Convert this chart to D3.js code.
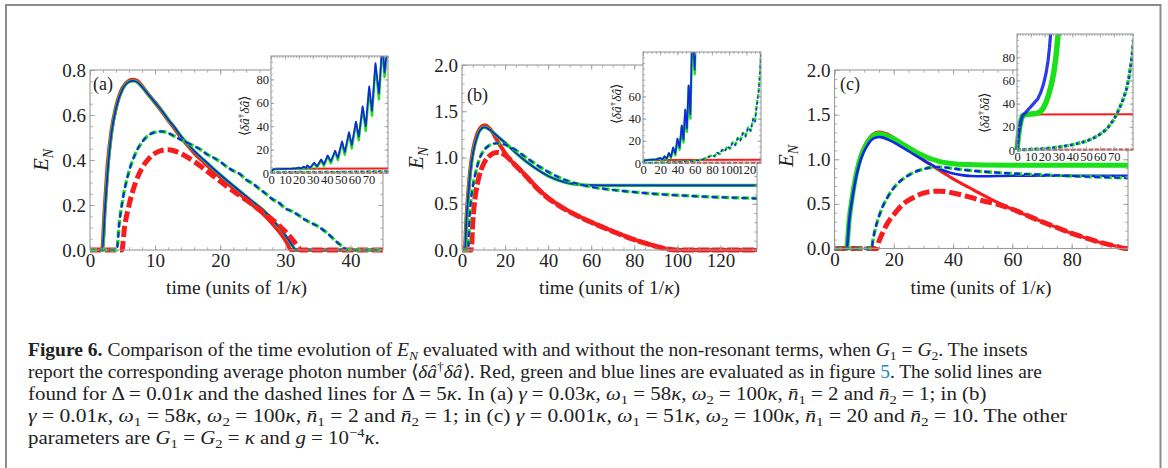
<!DOCTYPE html>
<html>
<head>
<meta charset="utf-8">
<script src="https://cdn.jsdelivr.net/npm/d3@7"></script>
<style>
  body { margin: 0; background: #fff; }
  svg text { font-family: "Liberation Serif", "Times New Roman", serif; fill: #222; }
</style>
</head>
<body>
<div id="chart"></div>
<script>
/**
 * DATA  (time in units of 1/kappa, E_N or photon number)
 * */
// panel (a)
const aRedSolid = [[0,0],[1.85,0],[2.25,0.18],[2.75,0.39],[3.3,0.53],[4,0.635],[5,0.72],[6,0.752],[6.6,0.757],[7.3,0.75],[8,0.728],[9,0.69],[10,0.655],[11,0.618],[12,0.578],[13,0.54],[14,0.5],[15,0.466],[16,0.432],[17.5,0.39],[19,0.35],[21,0.3],[23,0.25],[25,0.2],[26.5,0.163],[28,0.118],[29.5,0.065],[30.3,0.03],[30.8,0],[45,0]];
const aSolid = [[0,0],[1.9,0],[2.3,0.18],[2.8,0.38],[3.3,0.52],[4,0.63],[5,0.715],[6,0.748],[6.6,0.752],[7.3,0.745],[8,0.725],[9,0.69],[10,0.655],[11,0.62],[12,0.58],[13,0.545],[14,0.505],[15,0.472],[16,0.44],[17.5,0.4],[19,0.36],[21,0.31],[23,0.262],[25,0.215],[26.5,0.18],[28,0.135],[29.5,0.085],[30.5,0.045],[31.3,0.01],[31.6,0],[45,0]];
const aRedDash = [[0,0],[4.9,0],[5.3,0.1],[6,0.2],[7,0.3],[8,0.365],[9,0.405],[10,0.43],[11,0.443],[12,0.446],[13,0.44],[14,0.428],[15,0.412],[16,0.393],[17,0.372],[18,0.35],[19,0.328],[20,0.305],[22,0.262],[24,0.222],[26,0.18],[28,0.135],[30,0.082],[31,0.05],[32,0.012],[32.3,0],[45,0]];
const aDash = [[0,0],[4.1,0],[4.5,0.12],[5,0.22],[6,0.35],[7,0.43],[8,0.48],[9,0.51],[10,0.524],[11,0.527],[12,0.52],[13,0.505],[14,0.49],[15,0.476],[16,0.462],[17,0.446],[18,0.425],[19,0.41],[20,0.392],[21,0.37],[22,0.352],[23,0.338],[24,0.312],[25,0.295],[26,0.272],[27,0.25],[28,0.226],[29,0.21],[30,0.185],[31,0.172],[32,0.155],[33,0.135],[34,0.12],[35,0.105],[36,0.085],[37,0.06],[38,0.033],[39,0.01],[39.5,0],[45,0]];

// panel (b)
const bRedSolid = [[0,0],[1.3,0],[2,0.32],[3,0.65],[4,0.9],[5,1.06],[6,1.17],[7,1.25],[8,1.3],[9,1.33],[10,1.345],[11,1.345],[12,1.33],[14,1.28],[16,1.2],[18,1.12],[20,1.05],[22,0.985],[25,0.915],[28,0.845],[31,0.77],[35,0.67],[40,0.565],[45,0.485],[50,0.415],[55,0.357],[60,0.302],[65,0.252],[70,0.203],[75,0.157],[80,0.113],[85,0.076],[90,0.042],[95,0.014],[99,0],[137,0]];
const bSolid = [[0,0],[1.4,0],[2,0.3],[3,0.62],[4,0.87],[5,1.03],[6,1.14],[7,1.22],[8,1.28],[9,1.31],[10,1.325],[11,1.325],[12,1.312],[14,1.28],[16,1.24],[18,1.2],[20,1.16],[22,1.115],[25,1.05],[28,0.99],[31,0.935],[35,0.87],[40,0.8],[45,0.752],[50,0.72],[55,0.706],[60,0.7],[80,0.698],[100,0.698],[137,0.698]];
const bRedDash = [[0,0],[4.3,0],[5,0.3],[6,0.55],[7,0.7],[8,0.8],[10,0.93],[12,1.0],[14,1.04],[16,1.055],[18,1.05],[20,1.025],[22,0.985],[25,0.91],[28,0.84],[31,0.765],[35,0.665],[40,0.56],[45,0.48],[50,0.412],[55,0.354],[60,0.3],[65,0.25],[70,0.2],[75,0.155],[80,0.111],[85,0.074],[90,0.04],[95,0.013],[99.5,0],[137,0]];
const bDash = [[0,0],[2.8,0],[3.5,0.35],[4,0.5],[5,0.68],[6,0.8],[7,0.9],[8,0.98],[10,1.07],[12,1.12],[14,1.145],[16,1.155],[18,1.15],[20,1.14],[22,1.12],[25,1.08],[28,1.03],[31,0.98],[35,0.915],[40,0.845],[45,0.785],[50,0.74],[55,0.707],[60,0.683],[65,0.664],[70,0.65],[80,0.626],[90,0.606],[100,0.592],[110,0.58],[120,0.57],[130,0.563],[137,0.558]];

// panel (c)
const cRedSolid = [[0,0],[4,0],[5,0.35],[6,0.6],[7,0.8],[8,0.95],[9,1.06],[10,1.14],[11,1.2],[12,1.25],[13,1.28],[14,1.3],[15,1.305],[16,1.3],[18,1.28],[20,1.24],[22,1.19],[24,1.14],[26,1.09],[28,1.04],[30,0.99],[32,0.95],[34,0.905],[36,0.865],[40,0.78],[45,0.69],[50,0.6],[55,0.515],[60,0.44],[65,0.37],[70,0.3],[75,0.235],[80,0.17],[85,0.115],[90,0.065],[95,0.025],[98,0],[99,0]];
const cGreenSolid = [[0,0],[4,0],[5,0.34],[6,0.58],[7,0.78],[8,0.93],[9,1.04],[10,1.12],[11,1.18],[12,1.23],[13,1.26],[14,1.28],[15,1.285],[16,1.28],[18,1.26],[20,1.23],[22,1.19],[24,1.15],[26,1.11],[28,1.07],[30,1.04],[32,1.01],[34,0.99],[36,0.97],[40,0.95],[45,0.94],[50,0.935],[60,0.932],[80,0.932],[99,0.932]];
const cBlueSolid = [[0,0],[4.1,0],[5,0.33],[6,0.56],[7,0.75],[8,0.9],[9,1.01],[10,1.09],[11,1.15],[12,1.2],[13,1.23],[14,1.245],[15,1.25],[16,1.245],[18,1.22],[20,1.19],[22,1.15],[24,1.11],[26,1.07],[28,1.03],[30,0.99],[32,0.95],[34,0.915],[36,0.885],[38,0.86],[40,0.84],[43,0.822],[46,0.812],[50,0.81],[60,0.815],[80,0.815],[99,0.815]];
const cRedDash = [[0,0],[14.3,0],[15,0.08],[16,0.16],[18,0.29],[20,0.38],[22,0.46],[24,0.52],[26,0.56],[28,0.595],[30,0.62],[32,0.635],[34,0.642],[36,0.642],[38,0.636],[40,0.622],[43,0.6],[46,0.572],[50,0.535],[55,0.495],[60,0.44],[65,0.37],[70,0.3],[75,0.235],[80,0.17],[85,0.115],[90,0.065],[95,0.025],[98,0],[99,0]];
const cDash = [[0,0],[12.5,0],[13,0.1],[14,0.25],[15,0.36],[16,0.45],[18,0.58],[20,0.68],[22,0.75],[24,0.8],[26,0.84],[28,0.87],[30,0.89],[32,0.905],[34,0.912],[36,0.912],[38,0.906],[40,0.897],[45,0.877],[50,0.862],[55,0.85],[60,0.84],[70,0.826],[80,0.812],[90,0.8],[99,0.79]];

// insets: average photon number
const insABlue = [[0,0],[1,2.5],[2,3.2],[5,3.4],[10,3.5],[15,3.7],[18,4],[20,4.6],[21.5,3.8],[23.5,5.4],[25,4.2],[26,6.5],[28,4.5],[31,8.8],[33,5.8],[36,11.5],[38,7.5],[40.7,15],[43,10],[46,19],[48,13],[51,27],[53,18],[56,35],[58,24],[61,44],[63,31],[65.8,57],[68,40],[70.5,74],[72.5,53],[75,94],[77.5,68],[80,112],[81.5,86],[84,112]];
const insAGreen = [[0,0],[1,2.5],[2,3.2],[5,3.4],[10,3.5],[15,3.7],[18,4],[20,4.4],[21.5,3.2],[23.5,5.2],[25,3.5],[26,6.3],[28,3.6],[31,8.5],[33,4.6],[36,11],[38,6],[40.7,14.5],[43,8.3],[46,18.5],[48,11],[51,26],[53,15.5],[56,34],[58,21],[61,43],[63,28],[65.8,56],[68,36],[70.5,72],[72.5,49],[75,92],[77.5,63],[80,110],[81.5,82],[84,110]];
const insARed = [[0,0],[1,2.8],[3,3.6],[84,3.8]];
const insADash = [[0,0],[5,0.8],[40,1],[84,1.6]];
const insARedDash = [[0,0],[84,0.3]];

const insBBlue = [[0,0],[2,2.5],[10,3],[15,3.3],[20,4.5],[22.5,3.2],[25,6],[27.5,4],[30,9],[32.5,5.5],[35,14],[37.5,8.5],[40,22],[42.5,14],[45,34],[47,21],[49,48],[51,31],[53,70],[55,44],[57.5,130],[60,84],[62.5,150]];
const insBGreen = [[0,0],[2,2.5],[10,3],[15,3.3],[20,4.3],[22.5,2.6],[25,5.8],[27.5,3.2],[30,8.7],[32.5,4.4],[35,13.5],[37.5,7],[40,21.5],[42.5,12],[45,33],[47,18.5],[49,47],[51,28],[53,69],[55,40],[57.5,128],[60,80],[62.5,148]];
const insBRed = [[0,0],[2,2.6],[137,3]];
const insBDash = [[0,0],[20,0.4],[40,0.8],[55,1.5],[65,2.5],[70,3.5],[75,5],[80,7],[83,6],[86,9.5],[89,8],[92,12],[95,10.5],[98,15],[101,13],[104,18.5],[107,16],[110,22.5],[113,20],[116,27],[119,24],[122,32],[125,29],[128,40],[130,37],[132,52],[134,62],[136,82],[137,98]];
const insBRedDash = [[0,0],[137,0.3]];

const insCRed = [[0,0],[1,12],[2,20],[3,26],[4,29],[5,30.5],[84,30.8]];
const insCBlue = [[0,0],[1,12],[2,20],[3,26],[4,29.5],[6,32],[9,36],[12,40],[15,44],[17,49],[19,56],[21,66],[22.5,77],[23.5,88],[24.5,102]];
const insCGreen = [[0,0],[1,12],[2,20],[3,26],[4,29.5],[6,30.5],[10,31],[14,31.5],[17,33],[19,36],[21,41],[23,48],[25,57],[26.5,66],[28,78],[29,90],[30,102]];
const insCDash = [[0,0],[5,0.3],[10,0.5],[20,1],[30,2.5],[40,4.5],[50,7.5],[55,10],[60,13.5],[65,18],[70,26],[73,33],[76,41],[79,51],[81,62],[83,78],[84.5,95]];
const insCRedDash = [[0,0],[84,0.5]];

// tick values
const aXTicks = [0, 10, 20, 30, 40];
const aYTicks = [0, 0.2, 0.4, 0.6, 0.8];
const bXTicks = [0, 20, 40, 60, 80, 100, 120];
const cXTicks = [0, 20, 40, 60, 80];
const bcYTicks = [0, 0.5, 1.0, 1.5, 2.0];
const insXTicks = [0, 10, 20, 30, 40, 50, 60, 70];
const insBXTicks = [0, 20, 40, 60, 80, 100, 120];
const insYTicks = [0, 20, 40, 60, 80];
const insBYTicks = [0, 20, 40, 60];

/**
 * CONSTANTS AND GLOBALS
 * */
const width = 1168, height = 468;
const RED = "#f51d1d", GREEN = "#19e019", BLUE = "#1326e6", FRAME = "#9a9a9a";

const svg = d3.select("#chart").append("svg")
  .attr("width", width).attr("height", height);
const defs = svg.append("defs");

// outer figure border
svg.append("rect")
  .attr("x", 6).attr("y", 5).attr("width", 1154.5).attr("height", 490)
  .attr("fill", "none").attr("stroke", "#8c8c8c").attr("stroke-width", 2);

/**
 * PANEL FUNCTION
 * draws one framed plot (main or inset)
 * */
function drawPanel(cfg) {
  const g = svg.append("g");
  const x = d3.scaleLinear().domain(cfg.xDomain).range([cfg.left, cfg.right]);
  const y = d3.scaleLinear().domain(cfg.yDomain).range([cfg.bottom, cfg.top]);

  g.append("rect")
    .attr("x", cfg.left).attr("y", cfg.top)
    .attr("width", cfg.right - cfg.left).attr("height", cfg.bottom - cfg.top)
    .attr("fill", "#fff");

  defs.append("clipPath").attr("id", "clip-" + cfg.id)
    .append("rect")
    .attr("x", cfg.left - 3).attr("y", cfg.top)
    .attr("width", cfg.right - cfg.left + 3).attr("height", cfg.bottom - cfg.top + 4);

  const plot = g.append("g").attr("clip-path", `url(#clip-${cfg.id})`);
  const line = d3.line().x(d => x(d[0])).y(d => y(d[1])).curve(cfg.curve || d3.curveMonotoneX);

  cfg.series.forEach(s => {
    plot.append("path")
      .datum(s.data)
      .attr("fill", "none")
      .attr("stroke", s.color)
      .attr("stroke-width", s.width)
      .attr("stroke-dasharray", s.dash || null)
      .attr("stroke-dashoffset", s.offset || 0)
      .attr("stroke-opacity", s.opacity || 1)
      .attr("stroke-linejoin", "round")
      .attr("d", line);
  });

  // frame ticks on all four sides (pointing inward)
  const minorX = d3.range(cfg.xDomain[0], cfg.xDomain[1] + 1e-9, cfg.xMinor);
  const minorY = d3.range(cfg.yDomain[0], cfg.yDomain[1] + 1e-9, cfg.yMinor);
  const sides = [
    [d3.axisBottom, x, cfg.bottom, "x"], [d3.axisTop, x, cfg.top, "x"],
    [d3.axisLeft, y, cfg.left, "y"], [d3.axisRight, y, cfg.right, "y"],
  ];
  sides.forEach(([axisFn, scale, pos, dir]) => {
    [[dir === "x" ? minorX : minorY, cfg.minLen], [dir === "x" ? cfg.xTicks : cfg.yTicks, cfg.majLen]]
      .forEach(([vals, len]) => {
        const ax = g.append("g")
          .attr("transform", dir === "x" ? `translate(0,${pos})` : `translate(${pos},0)`)
          .call(axisFn(scale).tickValues(vals).tickSizeInner(-len).tickSizeOuter(0).tickFormat(""));
        ax.select(".domain").remove();
        ax.selectAll("line").attr("stroke", FRAME).attr("stroke-width", 0.8);
      });
  });

  g.append("rect")
    .attr("x", cfg.left).attr("y", cfg.top)
    .attr("width", cfg.right - cfg.left).attr("height", cfg.bottom - cfg.top)
    .attr("fill", "none").attr("stroke", FRAME).attr("stroke-width", 1.1);

  // tick labels
  const xLab = g.append("g")
    .attr("transform", `translate(0,${cfg.bottom})`)
    .call(d3.axisBottom(x).tickValues(cfg.xTicks).tickSize(0).tickPadding(cfg.xPad).tickFormat(cfg.xFormat || d3.format("d")));
  xLab.select(".domain").remove();
  xLab.selectAll("text").attr("font-size", cfg.tickFont).attr("fill", "#222")
    .attr("font-family", '"Liberation Serif", serif');

  const yLab = g.append("g")
    .attr("transform", `translate(${cfg.left},0)`)
    .call(d3.axisLeft(y).tickValues(cfg.yTicks).tickSize(0).tickPadding(cfg.yPad).tickFormat(cfg.yFormat || d3.format("d")));
  yLab.select(".domain").remove();
  yLab.selectAll("text").attr("font-size", cfg.tickFont).attr("fill", "#222")
    .attr("font-family", '"Liberation Serif", serif');

  return { g, x, y };
}

function yLabelEN(cx, cy) {
  const t = svg.append("text")
    .attr("transform", `translate(${cx},${cy}) rotate(-90)`)
    .attr("text-anchor", "middle")
    .attr("font-size", 21);
  t.append("tspan").attr("font-style", "italic").text("E");
  t.append("tspan").attr("font-style", "italic").attr("font-size", 14).attr("dy", 5).text("N");
}

function xTitle(cx, by) {
  const t = svg.append("text")
    .attr("x", cx).attr("y", by)
    .attr("text-anchor", "middle")
    .attr("font-size", 19.5);
  t.append("tspan").text("time (units of 1/");
  t.append("tspan").attr("font-style", "italic").text("κ");
  t.append("tspan").text(")");
}

function insetLabel(cx, cy) {
  const t = svg.append("text")
    .attr("transform", `translate(${cx},${cy}) rotate(-90)`)
    .attr("text-anchor", "middle")
    .attr("font-size", 13.5);
  t.append("tspan").text("⟨");
  t.append("tspan").attr("font-style", "italic").text("δâ");
  t.append("tspan").attr("font-size", 9).attr("dy", -5).text("†");
  t.append("tspan").attr("font-style", "italic").attr("dy", 5).text("δâ");
  t.append("tspan").text("⟩");
}

function panelTag(x, y, s) {
  svg.append("text").attr("x", x).attr("y", y).attr("font-size", 18).text(s);
}

const mainStyle = { majLen: 5, minLen: 2.8, tickFont: 19, xPad: 4, yPad: 4, yFormat: d3.format(".1f") };
const insStyle = { majLen: 3.5, minLen: 2, tickFont: 12.5, xPad: 2, yPad: 2, curve: d3.curveLinear };

/**
 * PANEL (a)
 * */
drawPanel({
  ...mainStyle, id: "a", left: 90, right: 383, top: 70, bottom: 250,
  xDomain: [0, 45], yDomain: [0, 0.8], xTicks: aXTicks, yTicks: aYTicks, xMinor: 2, yMinor: 0.05,
  series: [
    { data: aRedSolid, color: RED, width: 4 },
    { data: aSolid, color: GREEN, width: 3.2 },
    { data: aSolid, color: BLUE, width: 1.8 },
    { data: aRedDash, color: RED, width: 5, dash: "11,4" },
    { data: aDash, color: GREEN, width: 3.4, dash: "7,3" },
    { data: aDash, color: BLUE, width: 2, dash: "6,4", offset: 1 },
  ],
});
panelTag(93, 90, "(a)");
yLabelEN(48, 160);
xTitle(236.5, 294);

drawPanel({
  ...insStyle, id: "ia", left: 271, right: 388, top: 56, bottom: 173,
  xDomain: [0, 84], yDomain: [0, 100], xTicks: insXTicks, yTicks: insYTicks, xMinor: 2, yMinor: 5,
  series: [
    { data: insARed, color: RED, width: 2 },
    { data: insAGreen, color: GREEN, width: 2.4 },
    { data: insABlue, color: BLUE, width: 1.7 },
    { data: insARedDash, color: RED, width: 2, dash: "4,2" },
    { data: insADash, color: GREEN, width: 2, dash: "4,2" },
    { data: insADash, color: BLUE, width: 1.3, dash: "3,3", offset: 1 },
  ],
});
insetLabel(249, 116);

/**
 * PANEL (b)
 * */
drawPanel({
  ...mainStyle, id: "b", left: 462, right: 757, top: 65, bottom: 250,
  xDomain: [0, 137], yDomain: [0, 2], xTicks: bXTicks, yTicks: bcYTicks, xMinor: 5, yMinor: 0.1,
  series: [
    { data: bRedSolid, color: RED, width: 4 },
    { data: bSolid, color: GREEN, width: 3.2 },
    { data: bSolid, color: BLUE, width: 1.8 },
    { data: bRedDash, color: RED, width: 5, dash: "12,3" },
    { data: bDash, color: GREEN, width: 3.4, dash: "7,3" },
    { data: bDash, color: BLUE, width: 2, dash: "6,4", offset: 1 },
  ],
});
panelTag(467, 101, "(b)");
yLabelEN(423, 158);
xTitle(609.5, 294);

drawPanel({
  ...insStyle, id: "ib", left: 643, right: 761, top: 52, bottom: 163,
  xDomain: [0, 137], yDomain: [0, 100], xTicks: insBXTicks, yTicks: insBYTicks, xMinor: 5, yMinor: 5,
  series: [
    { data: insBRed, color: RED, width: 2 },
    { data: insBGreen, color: GREEN, width: 2.4 },
    { data: insBBlue, color: BLUE, width: 1.7 },
    { data: insBRedDash, color: RED, width: 2, dash: "4,2" },
    { data: insBDash, color: GREEN, width: 2.4, dash: "4,2" },
    { data: insBDash, color: BLUE, width: 1.5, dash: "3,3", offset: 1 },
  ],
});
insetLabel(621, 104);

/**
 * PANEL (c)
 * */
drawPanel({
  ...mainStyle, id: "c", left: 834.5, right: 1128, top: 70, bottom: 248.5,
  xDomain: [0, 99], yDomain: [0, 2], xTicks: cXTicks, yTicks: bcYTicks, xMinor: 5, yMinor: 0.1,
  series: [
    { data: cRedSolid, color: RED, width: 3.2 },
    { data: cGreenSolid, color: GREEN, width: 5 },
    { data: cBlueSolid, color: BLUE, width: 2.6 },
    { data: cRedDash, color: RED, width: 5, dash: "12,4" },
    { data: cDash, color: GREEN, width: 3.4, dash: "7,3" },
    { data: cDash, color: BLUE, width: 2.2, dash: "6,4", offset: 1 },
  ],
});
panelTag(840, 90, "(c)");
yLabelEN(793, 156);
xTitle(981, 294);

drawPanel({
  ...insStyle, id: "ic", left: 1017, right: 1133, top: 34, bottom: 150,
  xDomain: [0, 84], yDomain: [0, 100], xTicks: insXTicks, yTicks: insYTicks, xMinor: 2, yMinor: 5,
  series: [
    { data: insCRed, color: RED, width: 2 },
    { data: insCGreen, color: GREEN, width: 5.5 },
    { data: insCBlue, color: BLUE, width: 3.2, opacity: 0.9 },
    { data: insCRedDash, color: RED, width: 2, dash: "4,2" },
    { data: insCDash, color: GREEN, width: 3.5, dash: "4,2" },
    { data: insCDash, color: BLUE, width: 2.6, dash: "3,3", offset: 1, opacity: 0.9 },
  ],
});
insetLabel(989, 113);

/**
 * CAPTION
 * */
const captionLines = [
  [["Figure 6.", "b"], [" Comparison of the time evolution of ", ""], ["E", "i"], ["N", "isub"], [" evaluated with and without the non-resonant terms, when ", ""], ["G", "i"], ["1", "sub"], [" = ", ""], ["G", "i"], ["2", "sub"], [". The insets", ""]],
  [["report the corresponding average photon number ⟨", ""], ["δâ", "i"], ["†", "sup"], ["δâ", "i"], ["⟩. Red, green and blue lines are evaluated as in figure ", ""], ["5", "link"], [". The solid lines are", ""]],
  [["found for Δ = 0.01", ""], ["κ", "i"], [" and the dashed lines for Δ = 5", ""], ["κ", "i"], [". In (a) ", ""], ["γ", "i"], [" = 0.03", ""], ["κ", "i"], [", ", ""], ["ω", "i"], ["1", "sub"], [" = 58", ""], ["κ", "i"], [", ", ""], ["ω", "i"], ["2", "sub"], [" = 100", ""], ["κ", "i"], [", ", ""], ["n̄", "i"], ["1", "sub"], [" = 2 and ", ""], ["n̄", "i"], ["2", "sub"], [" = 1; in (b)", ""]],
  [["γ", "i"], [" = 0.01", ""], ["κ", "i"], [", ", ""], ["ω", "i"], ["1", "sub"], [" = 58", ""], ["κ", "i"], [", ", ""], ["ω", "i"], ["2", "sub"], [" = 100", ""], ["κ", "i"], [", ", ""], ["n̄", "i"], ["1", "sub"], [" = 2 and ", ""], ["n̄", "i"], ["2", "sub"], [" = 1; in (c) ", ""], ["γ", "i"], [" = 0.001", ""], ["κ", "i"], [", ", ""], ["ω", "i"], ["1", "sub"], [" = 51", ""], ["κ", "i"], [", ", ""], ["ω", "i"], ["2", "sub"], [" = 100", ""], ["κ", "i"], [", ", ""], ["n̄", "i"], ["1", "sub"], [" = 20 and ", ""], ["n̄", "i"], ["2", "sub"], [" = 10. The other", ""]],
  [["parameters are ", ""], ["G", "i"], ["1", "sub"], [" = ", ""], ["G", "i"], ["2", "sub"], [" = ", ""], ["κ", "i"], [" and ", ""], ["g", "i"], [" = 10", ""], ["−4", "sup"], ["κ", "i"], [".", ""]],
];
const captionEnds = [1028, 1043, 987, 1067, 380];
const captionLeft = 28, captionTop = 356, captionStep = 22, capFont = 18.5;

captionLines.forEach((segs, i) => {
  const by = captionTop + i * captionStep;
  const t = svg.append("text").attr("font-size", capFont).attr("x", 0).attr("y", 0);
  let shift = 0;
  segs.forEach(([txt, st]) => {
    const sp = t.append("tspan").text(txt);
    let target = 0;
    if (st.includes("sub")) { target = 4; sp.attr("font-size", capFont * 0.7); }
    if (st === "sup") { target = -7; sp.attr("font-size", capFont * 0.7); }
    if (st.startsWith("i")) sp.attr("font-style", "italic");
    if (st === "b") sp.attr("font-weight", "bold");
    if (st === "link") sp.style("fill", "#2b83c6");
    if (target !== shift) { sp.attr("dy", target - shift); shift = target; }
  });
  const w = t.node().getComputedTextLength();
  const k = (captionEnds[i] - captionLeft) / w;
  t.attr("transform", `translate(${captionLeft},${by}) scale(${k},1)`);
});
</script>
</body>
</html>
